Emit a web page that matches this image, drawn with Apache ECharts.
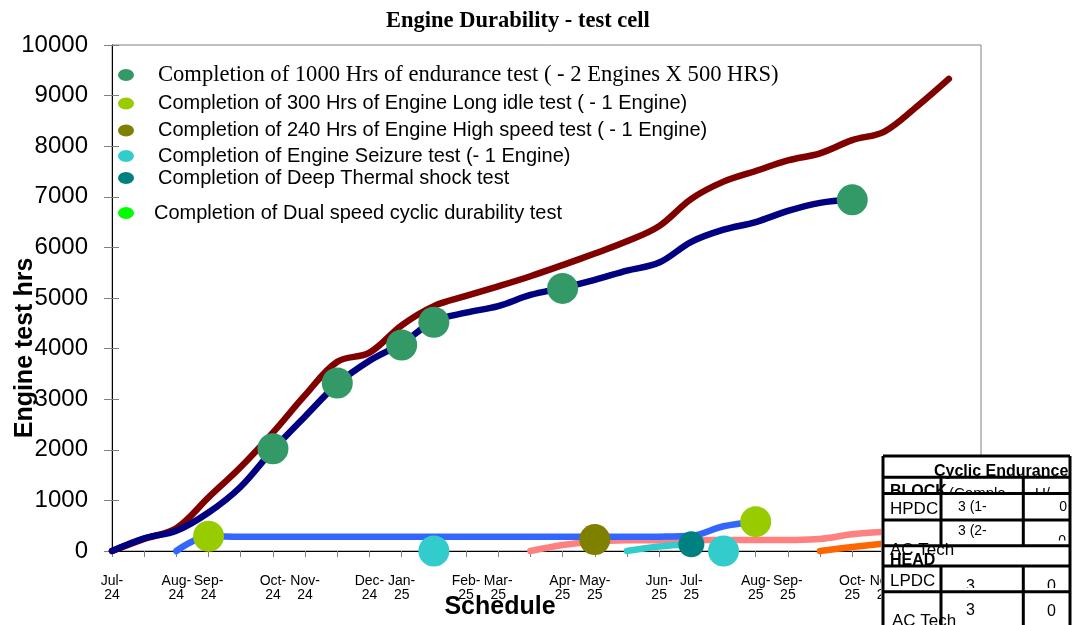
<!DOCTYPE html>
<html><head><meta charset="utf-8">
<script src="https://cdn.jsdelivr.net/npm/echarts@6/dist/echarts.min.js"></script>
<style>html,body{margin:0;padding:0;background:#fff}#c{width:1081px;height:625px}</style>
</head><body><div id="c"></div>
<script>
// ---------- data ----------
const months = ['Jul-24','','Aug-24','Sep-24','','Oct-24','Nov-24','','Dec-24','Jan-25','','Feb-25','Mar-25','',
  'Apr-25','May-25','','Jun-25','Jul-25','','Aug-25','Sep-25','','Oct-25','Nov-25','','Dec-25','Jan-26'];
const yMin = 0, yMax = 10000, yStep = 1000;

const planHrs   = [0,240,450,1060,1660,2340,3080,3740,3920,4460,4840,5040,5230,5430,5650,5880,6120,6420,6960,7300,7510,7720,7860,8120,8290,8780,9330];
const actualHrs = [0,250,400,760,1270,2000,2660,3300,3760,4100,4540,4710,4840,5060,5200,5360,5540,5700,6110,6350,6500,6720,6880,6940];
const longIdleHrs  = [null,null,0,290,280,280,280,280,280,280,280,280,280,280,280,280,280,283,300,490,580];
const seizureHrs   = [null,null,null,null,null,null,null,null,null,null,null,null,null,null,null,null,0,90,135];
const highSpeedHrs = [null,null,null,null,null,null,null,null,null,null,null,null,null,0,120,190,210,212,215,215,215,218,237,330,380,420];
const dualSpeedHrs = [null,null,null,null,null,null,null,null,null,null,null,null,null,null,null,null,null,null,null,null,null,null,0,80,150,230];

const enduranceDone = [[5,2020],[7,3320],[9,4070],[10,4520],[14,5190],[23,6940]];
const longIdleDone  = [[3,290],[20,580]];
const highSpeedDone = [[15,225]];
const seizureDone   = [[10,0],[19,0]];
const thermalDone   = [[18,132]];
const dualSpeedDone = [];

const legendNames = [
  'Completion of 1000 Hrs of endurance test ( - 2 Engines X 500 HRS)',
  'Completion of 300 Hrs of Engine Long idle test ( - 1 Engine)',
  'Completion of 240 Hrs of Engine High speed test ( - 1 Engine)',
  'Completion of Engine Seizure test (- 1 Engine)',
  'Completion of Deep Thermal shock test',
  'Completion of Dual speed cyclic durability test'
];
const tableTitle = 'Cyclic Endurance';
const tableHead = ['BLOCK', '(Comple', 'U/'];
const tableRows = [['HPDC', '3 (1-', '0'], ['AC Tech', '3 (2-', '0'], ['HEAD'], ['LPDC', '3', '0'], ['AC Tech', '3', '0']];

// ---------- styles ----------
const SANS = 'Liberation Sans', SERIF = 'Liberation Serif';
const markerColors = ['#339966', '#99CC00', '#808000', '#33CCCC', '#008080', '#00FF00'];
const markerData = [enduranceDone, longIdleDone, highSpeedDone, seizureDone, thermalDone, dualSpeedDone];
const markerSizes = [31, 31, 31, 31, 26, 31];

function lineSeries(name, data, color, w) {
  return { name, type: 'line', data, smooth: 0.35, showSymbol: false, symbol: 'none', clip: false,
    lineStyle: { color, width: w || 6.5, cap: 'round', join: 'round' }, itemStyle: { color },
    emphasis: { disabled: true }, silent: true };
}
const series = [
  lineSeries('High speed', highSpeedHrs, '#FF8080'),
  lineSeries('Dual speed', dualSpeedHrs, '#FF6600'),
  lineSeries('Seizure', seizureHrs, '#33CCCC'),
  lineSeries('Long idle', longIdleHrs, '#3366FF'),
  lineSeries('Plan', planHrs, '#800000'),
  lineSeries('Actual', actualHrs, '#000080')
];
legendNames.forEach((n, k) => {
  series.push({ name: n, type: 'scatter', data: markerData[k], symbol: 'circle', symbolSize: markerSizes[k],
    clip: false, itemStyle: { color: markerColors[k], opacity: 1 }, z: 3, silent: true });
});

const legendLayout = [
  { top: 53, pad: [21, 0, 0, 19], font: SERIF, size: 22.6 },
  { top: 81, pad: [25, 0, 0, 19], font: SANS, size: 20 },
  { top: 108, pad: [25, 0, 0, 19], font: SANS, size: 20 },
  { top: 135, pad: [22, 0, 0, 19], font: SANS, size: 20 },
  { top: 157, pad: [22, 0, 0, 19], font: SANS, size: 20 },
  { top: 197, pad: [12, 0, 0, 15], font: SANS, size: 20 }
];
const ellipse = 'path://M0,6 A8,6 0 1,0 16,6 A8,6 0 1,0 0,6 Z';
const legends = legendNames.map((n, k) => ({
  data: [n], left: 118, top: legendLayout[k].top, padding: 0, itemWidth: 16, itemHeight: 12, icon: ellipse,
  selectedMode: false,
  textStyle: { fontFamily: legendLayout[k].font, fontSize: legendLayout[k].size, lineHeight: Math.round(legendLayout[k].size),
    color: '#000', padding: legendLayout[k].pad }
}));

// ---------- table (embedded object) ----------
const TX = [883, 941, 1023.3, 1070];
const TY = [456, 477.3, 493.5, 520, 545.7, 566, 591.7];
const TB = 630;
function t(s, x, y, size, bold, align) {
  return { type: 'text', x: 0, y: 0, z: 100,
    style: { text: s, x, y, fill: '#000', font: (bold ? 'bold ' : '') + size + 'px "' + SANS + '"',
      textAlign: align || 'left', textVerticalAlign: 'middle', align: align || 'left', verticalAlign: 'middle' } };
}
function mask(y) {
  return { type: 'rect', z: 100, shape: { x: 881.5, y, width: 190, height: TB - y }, style: { fill: '#fff' } };
}
function ln(x1, y1, x2, y2) {
  return { type: 'line', z: 100, shape: { x1, y1, x2, y2 }, style: { stroke: '#000', lineWidth: 3 } };
}
const table = [
  { type: 'rect', z: 100, shape: { x: 881.5, y: TY[0], width: 190, height: TB - TY[0] }, style: { fill: '#fff' } },
  t(tableHead[0], 890, 492, 16, true), t(tableHead[1], 949, 494, 15), t(tableHead[2], 1035, 494, 15),
  mask(494),
  t(tableRows[0][0], 890, 509, 17), t(tableRows[0][1], 958, 507.5, 14), t(tableRows[0][2], 1067, 507.5, 14, false, 'right'),
  t(tableRows[1][1], 958, 531.5, 14), t(tableRows[1][2], 1066, 541.5, 14, false, 'right'),
  mask(540.5),
  t(tableRows[1][0], 890, 550.5, 17), t(tableRows[2][0], 890, 560.5, 16, true),
  mask(566),
  t(tableRows[3][0], 890, 581, 17), t(tableRows[3][1], 966, 587, 16), t(tableRows[3][2], 1047, 587, 16),
  mask(588),
  t(tableRows[4][0], 892, 621, 17), t(tableRows[4][1], 966, 611, 16), t(tableRows[4][2], 1047, 612, 16)
];
TY.forEach(y => table.push(ln(TX[0], y, TX[3], y)));
table.push(ln(TX[0], TY[0], TX[0], TB), ln(TX[3], TY[0], TX[3], TB));
[TX[1], TX[2]].forEach(x => { table.push(ln(x, TY[1], x, TY[4])); table.push(ln(x, TY[5], x, TB)); });
table.push(t(tableTitle, 934, 471.5, 16, true));

// ---------- chart ----------
const chart = echarts.init(document.getElementById('c'), null, { renderer: 'canvas' });
chart.setOption({
  animation: false,
  backgroundColor: '#fff',
  title: { text: 'Engine Durability - test cell', left: 386, top: 10, padding: 0,
    textStyle: { fontFamily: SERIF, fontWeight: 'bold', fontSize: 22.5, color: '#000' } },
  legend: legends,
  grid: { left: 112, right: 100, top: 45, bottom: 74, show: true, borderColor: '#808080', borderWidth: 1,
    containLabel: false, outerBoundsMode: 'none' },
  xAxis: {
    type: 'category', data: months, boundaryGap: false,
    name: 'Schedule', nameLocation: 'middle', nameGap: 44, nameMoveOverlap: false,
    nameTextStyle: { fontFamily: SANS, fontWeight: 'bold', fontSize: 25, color: '#000', padding: [0, 93, 0, 0] },
    axisLine: { lineStyle: { color: '#000', width: 1 } },
    axisTick: { show: true, interval: 0, length: 6, lineStyle: { color: '#808080' } },
    axisLabel: { interval: 0, margin: 23, fontFamily: SANS, fontSize: 14, lineHeight: 14, color: '#000',
      formatter: v => v.replace('-', '-\n') },
    splitLine: { show: false }
  },
  yAxis: [{
    type: 'value', min: yMin, max: yMax, interval: yStep,
    name: 'Engine test hrs', nameLocation: 'middle', nameGap: 74, nameRotate: 90, nameMoveOverlap: false,
    nameTextStyle: { fontFamily: SANS, fontWeight: 'bold', fontSize: 25, color: '#000', padding: [0, 100, 0, 0] },
    axisLine: { show: true, lineStyle: { color: '#000', width: 1 } },
    axisTick: { show: true, length: 8, lineStyle: { color: '#808080' } },
    axisLabel: { margin: 24, fontFamily: SANS, fontSize: 24, color: '#000', formatter: v => String(v) },
    splitLine: { show: false }
  }, {
    type: 'value', min: yMin, max: yMax, interval: yStep, position: 'left', offset: 0,
    axisLine: { show: false }, axisTick: { show: true, inside: true, length: 7, lineStyle: { color: '#808080' } },
    axisLabel: { show: false }, splitLine: { show: false }
  }],
  series,
  graphic: table
});
</script>
</body></html>
